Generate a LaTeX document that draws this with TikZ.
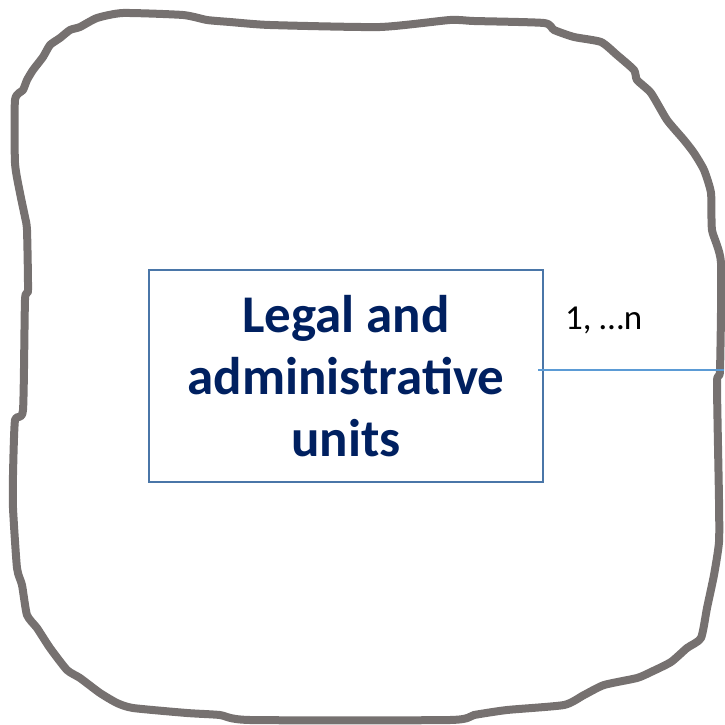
\documentclass[tikz,border=0pt]{standalone}
\usepackage{fontspec}
\setmainfont{Carlito}
\usepackage{xcolor}
\definecolor{blobgray}{HTML}{767170}
\definecolor{unitnavy}{HTML}{002060}
\definecolor{unitframe}{HTML}{4A76A8}
\definecolor{linkblue}{HTML}{5B9BD5}

\begin{document}
\begin{tikzpicture}[x=1pt,y=-1pt]
\tikzset{blob style/.style={draw=blobgray, line width=8pt, line join=round, line cap=round}}
\tikzset{unit style/.style={draw=unitframe, line width=2.5pt, fill=white, align=center, text=unitnavy,
  minimum width=394pt, minimum height=212pt, inner sep=0pt,
  font=\fontsize{53}{62}\selectfont\bfseries}}
\tikzset{card style/.style={font=\fontsize{35}{40}\selectfont, anchor=base west, inner sep=0pt}}
\tikzset{link style/.style={draw=linkblue, line width=2.5pt}}
\useasboundingbox (0,0) rectangle (724,725);

% hand drawn boundary
\draw[blob style] plot[smooth cycle, tension=0.35] coordinates {
(123,13) (183,15) (207,20) (230,22) (270,25) (380,27) (450,20) (474,21) (544,23)
(554,30) (574,37) (601,42) (617,55) (634,70) (637,80) (651,93) (667,120) (684,140)
(694,153) (704,170) (711,193) (712,230) (721,263) (720,370) (717,383) (719,500)
(719,542) (714,575) (707,608) (701,638) (687,648) (671,662) (651,672) (637,678)
(604,685) (584,695) (564,705) (507,710) (474,715) (450,720) (250,720) (220,715)
(187,713) (133,708) (117,703) (100,693) (80,678) (67,670) (50,648) (37,628) (27,615)
(22,585) (17,568) (13,508) (13,475) (15,420) (23,410) (25,300) (28,290) (27,230)
(25,217) (20,193) (15,163) (15,100) (23,90) (27,80) (33,70) (43,57) (50,45) (60,38)
(70,30) (80,27) (97,18)};

\node[unit style] (LAU) at (346,376) {Legal and\\administrative\\units};
\coordinate (Edge) at (724,370);
\node[card style] (Card) at (565,329) {1, …n};
\draw[link style] ([xshift=-6pt]LAU.east |- Edge) -- (Edge);
\end{tikzpicture}
\end{document}
